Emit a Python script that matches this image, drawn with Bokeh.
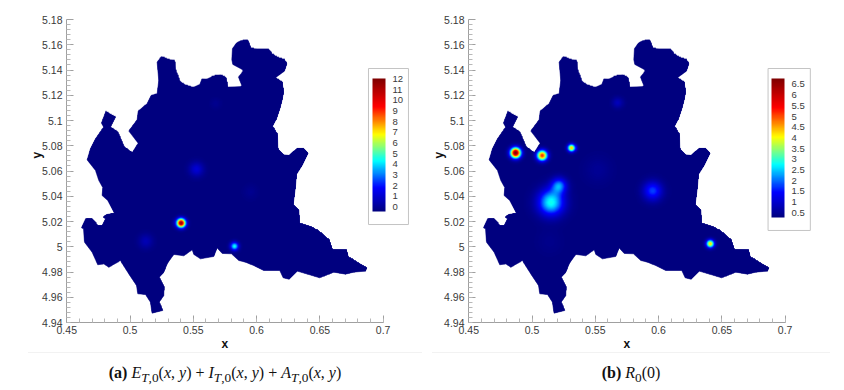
import numpy as np
from bokeh.embed import file_html
from bokeh.layouts import column, row
from bokeh.models import AllLabels, ColorBar, Div, FixedTicker, LinearColorMapper, Range1d, Title
from bokeh.plotting import figure
from bokeh.resources import INLINE

region_x = [.5248,.5306,.5351,.5359,.5393,.5430,.5498,.5551,.5567,.5601,.5662,.5714,.5757,.5772,.5886,.5857,.5894,.5886,.5812,.5804,.5809,.5841,.5878,.5930,.5954,.6017,.6094,.6118,.6168,.6215,.6239,.6220,.6149,.6202,.6212,.6202,.6183,.6157,.6125,.6165,.6168,.6210,.6255,.6315,.6373,.6407,.6360,.6315,.6307,.6289,.6334,.6339,.6426,.6484,.6571,.6597,.6708,.6726,.6795,.6871,.6860,.6768,.6702,.6610,.6497,.6413,.6320,.6255,.6210,.6183,.6057,.5978,.5912,.5859,.5801,.5728,.5688,.5662,.5556,.5504,.5491,.5425,.5346,.5293,.5267,.5230,.5269,.5267,.5230,.5259,.5174,.5161,.5122,.5061,.5051,.4990,.4924,.4832,.4792,.4745,.4700,.4640,.4632,.4616,.4650,.4700,.4745,.4779,.4806,.4787,.4813,.4877,.4824,.4779,.4785,.4753,.4727,.4661,.4687,.4727,.4792,.4774,.4808,.4885,.4845,.4903,.4956,.5016,.5064,.4990,.5056,.5064,.5135,.5167,.5214,.5227,.5214]
region_y = [5.1504,5.1481,5.1473,5.1396,5.1309,5.1283,5.1261,5.1283,5.1327,5.1325,5.1351,5.1359,5.1338,5.1261,5.1269,5.1343,5.1391,5.1404,5.1444,5.1481,5.1568,5.1613,5.1631,5.1636,5.1573,5.1560,5.1562,5.1528,5.1496,5.1483,5.1449,5.1391,5.1338,5.1304,5.1224,5.1164,5.1092,5.1013,5.0952,5.0886,5.0776,5.0728,5.0723,5.0776,5.0778,5.0741,5.0644,5.0572,5.0472,5.0332,5.0292,5.0187,5.0160,5.0129,5.0055,4.9978,4.9976,4.9917,4.9878,4.9833,4.9807,4.9799,4.9783,4.9799,4.9754,4.9780,4.9807,4.9743,4.9754,4.9812,4.9812,4.9851,4.9878,4.9891,4.9944,4.9947,4.9991,4.9923,4.9904,4.9939,4.9976,4.9928,4.9939,4.9865,4.9799,4.9759,4.9685,4.9614,4.9561,4.9495,4.9474,4.9561,4.9622,4.9627,4.9693,4.9785,4.9891,4.9838,4.9865,4.9857,4.9957,5.0036,5.0142,5.0150,5.0224,5.0221,5.0168,5.0168,5.0221,5.0234,5.0255,5.0266,5.0366,5.0406,5.0467,5.0525,5.0604,5.0688,5.0776,5.0855,5.0947,5.0979,5.1069,5.1026,5.0947,5.0908,5.0789,5.0744,5.0820,5.0916,5.1005,5.1074,5.1132,5.1198,5.1211,5.1317,5.1462]

# hot spots: centre x, centre y, height above the background, spread
spots_a_x = [.5400,.5822,.5522,.5122,.5675,.5950]
spots_a_y = [5.0185,5.0000,5.0610,5.0040,5.1130,5.0430]
spots_a_h = [12.2,4.9,1.5,0.95,0.3,0.3]
spots_a_s = [.0025,.0023,.0040,.0040,.0030,.0040]

spots_b_x = [.4869,.5077,.5311,.6407,.5148,.5211,.5951,.5675,.5517,.5135]
spots_b_y = [5.0741,5.0720,5.0780,5.0020,5.0348,5.0480,5.0438,5.1137,5.0604,5.0036]
spots_b_h = [6.5,4.9,4.1,4.0,2.55,1.8,1.5,0.55,0.2,0.12]
spots_b_s = [.0029,.0029,.0021,.0022,.0072,.0043,.0052,.0030,.0075,.0070]

x_ticks = [.45,.5,.55,.6,.65,.7]
x_labels = ["0.45","0.5","0.55","0.6","0.65","0.7"]
y_ticks = [4.94,4.96,4.98,5.0,5.02,5.04,5.06,5.08,5.1,5.12,5.14,5.16,5.18]
y_labels = ["4.94","4.96","4.98","5","5.02","5.04","5.06","5.08","5.1","5.12","5.14","5.16","5.18"]

bar_a_ticks = [0,1,2,3,4,5,6,7,8,9,10,11,12]
bar_a_labels = ["0","1","2","3","4","5","6","7","8","9","10","11","12"]
bar_b_ticks = [.5,1,1.5,2,2.5,3,3.5,4,4.5,5,5.5,6,6.5]
bar_b_labels = ["0.5","1","1.5","2","2.5","3","3.5","4","4.5","5","5.5","6","6.5"]

stops = [0, .18, .38, .58, .79, 1]
stop_r = [0, 0, 0, 255, 255, 127]
stop_g = [0, 0, 255, 255, 0, 0]
stop_b = [127, 255, 255, 0, 0, 0]
t = np.linspace(0, 1, 256)
palette = ["#%02x%02x%02x" % (round(r), round(g), round(b)) for r, g, b in
           zip(np.interp(t, stops, stop_r), np.interp(t, stops, stop_g), np.interp(t, stops, stop_b))]

# grid and region mask
K = .25 / 316.4
gx = np.arange(.46, .69, .0004)
gy = np.arange(4.94, 5.17, .0004)
GX, GY = np.meshgrid(gx, gy)
px, py = np.array(region_x), np.array(region_y)
inside = np.zeros(GX.shape, bool)
for x0, y0, x1, y1 in zip(px, py, np.roll(px, 1), np.roll(py, 1)):
    if y0 == y1:
        continue
    crosses = (y0 > GY) != (y1 > GY)
    inside ^= crosses & (GX < (x1 - x0) * (GY - y0) / (y1 - y0) + x0)


def field(xs, ys, hs, ss, low):
    z = np.full(GX.shape, float(low))
    for x, y, h, s in zip(xs, ys, hs, ss):
        z += h * np.exp(-((GX - x) ** 2 + (GY - y) ** 2) / (2 * s * s))
    z[~inside] = np.nan
    return z


def panel(width, border_left, xs, ys, hs, ss, low, high, bar_ticks, bar_labels,
          bar_x, bar_y, bar_h, box, standoff):
    p = figure(width=width, height=352, output_backend="svg", toolbar_location=None,
               min_border_left=border_left, min_border_right=0, min_border_top=19,
               min_border_bottom=30,
               x_range=Range1d(.4498, .4498 + (width - border_left) * K),
               y_range=Range1d(4.94, 5.18), outline_line_color=None,
               background_fill_color="white", border_fill_color="white")
    p.grid.visible = False
    mapper = LinearColorMapper(palette=palette, low=low, high=high, nan_color="rgba(0,0,0,0)")
    p.patch(region_x, region_y, fill_color=palette[0], line_color=palette[0], line_width=0.5)
    p.image(image=[field(xs, ys, hs, ss, low)], x=gx[0], y=gy[0],
            dw=gx[-1] - gx[0], dh=gy[-1] - gy[0], color_mapper=mapper)
    p.quad(left=[box[0]], right=[box[1]], bottom=[box[2]], top=[box[3]],
           fill_color="white", line_color="#c4c4c4", line_width=1)

    for ax, ticks, labels, bounds, minor in (
        (p.xaxis[0], x_ticks, x_labels, (.45, .7), [.45 + .01 * i for i in range(26)]),
        (p.yaxis[0], y_ticks, y_labels, (4.94, 5.18), [4.94 + .004 * i for i in range(61)]),
    ):
        ax.ticker = FixedTicker(ticks=ticks, minor_ticks=minor)
        ax.major_label_overrides = dict(zip(ticks, labels))
        ax.bounds = bounds
        ax.axis_line_color = "#a0a0a0"
        ax.major_tick_line_color = "#a0a0a0"
        ax.minor_tick_line_color = "#b8b8b8"
        ax.major_tick_in = 7
        ax.major_tick_out = 0
        ax.minor_tick_in = 4
        ax.minor_tick_out = 0
        ax.major_label_text_font = "Liberation Sans"
        ax.major_label_text_font_size = "10.5px"
        ax.major_label_text_color = "#3a3a3a"
    p.xaxis[0].major_label_standoff = 3
    p.yaxis[0].major_label_standoff = 4

    title_style = dict(align="left", text_font="Liberation Sans", text_font_style="bold",
                       text_font_size="12px", text_color="#111111")
    p.add_layout(Title(text="x", offset=155, standoff=-3, **title_style), "below")
    p.add_layout(Title(text="y", offset=164, standoff=-9, **title_style), "left")

    cb = ColorBar(color_mapper=mapper, ticker=FixedTicker(ticks=bar_ticks),
                  major_label_overrides=dict(zip(bar_ticks, bar_labels)),
                  major_label_policy=AllLabels(),
                  width=13, height=bar_h, location=(bar_x, bar_y), padding=0,
                  major_tick_line_color=None, minor_tick_line_color=None, bar_line_color=None,
                  border_line_color=None, background_fill_color=None, label_standoff=standoff,
                  major_label_text_font="Liberation Sans", major_label_text_font_size="9.5px",
                  major_label_text_color="#3a3a3a")
    p.add_layout(cb, "center")
    return p


p1 = panel(422, 66, spots_a_x, spots_a_y, spots_a_h, spots_a_s, -0.44, 12.06,
           bar_a_ticks, bar_a_labels, 306, 111, 133, (.6884, .7200, 5.0176, 5.1412), 7)
p2 = panel(420, 46, spots_b_x, spots_b_y, spots_b_h, spots_b_s, 0.28, 6.78,
           bar_b_ticks, bar_b_labels, 303, 105, 139, (.6865, .7199, 5.0129, 5.1412), 7)

cap_style = {"font-family": "Liberation Serif", "font-size": "16px", "color": "#111",
             "text-align": "center", "width": "100%", "border-top": "1px solid #f2f2f2",
             "padding-top": "9px", "white-space": "nowrap"}
d1 = Div(text="<b>(a)</b> <i>E</i><sub><i>T</i>,0</sub>(<i>x</i>, <i>y</i>) + "
              "<i>I</i><sub><i>T</i>,0</sub>(<i>x</i>, <i>y</i>) + "
              "<i>A</i><sub><i>T</i>,0</sub>(<i>x</i>, <i>y</i>)",
         width=394, height=30, margin=(0, 0, 0, 28), styles=cap_style)
d2 = Div(text="<b>(b)</b> <i>R</i><sub>0</sub>(0)", width=398, height=30,
         margin=(0, 0, 0, 10), styles=cap_style)

page = column(row(p1, p2, spacing=0), row(d1, d2, spacing=0), spacing=0)
open("out.html", "w").write(file_html(page, INLINE))
